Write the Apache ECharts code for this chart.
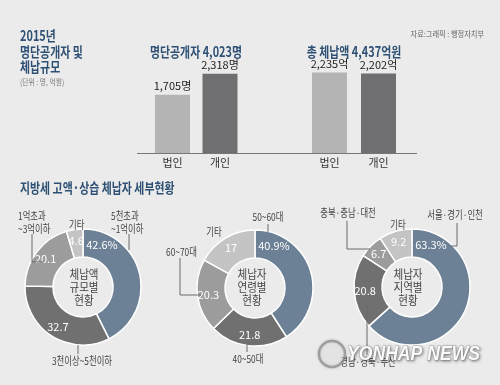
<!DOCTYPE html>
<html><head><meta charset="utf-8">
<script src="https://cdn.jsdelivr.net/npm/echarts@6/dist/echarts.min.js"></script>
<style>html,body{margin:0;padding:0;background:#ebebeb;}#c{width:500px;height:385px;}</style>
</head><body><div id="c"></div>
<script>
// ---- data ----
const barCats = ['법인', '개인'];
const listedCounts = [1705, 2318];      // 명
const arrearsAmounts = [2235, 2202];    // 억
const sizeNames = ['5천초과~1억이하', '3천이상~5천이하', '1억초과~3억이하', '기타'];
const sizeValues = [42.6, 32.7, 20.1, 4.6];
const ageNames = ['50~60대', '40~50대', '60~70대', '기타'];
const ageValues = [40.9, 21.8, 20.3, 17];
const regionNames = ['서울·경기·인천', '경남·경북·부산', '충북·충남·대전', '기타'];
const regionValues = [63.3, 20.8, 6.7, 9.2];

const FONT = '"Noto Sans CJK KR", "Noto Sans", sans-serif';
const NARROW = '"Liberation Sans Narrow", "Noto Sans CJK KR", sans-serif';
const BLUE = '#2d5074';
const fmt = v => v.toLocaleString('en-US');
const chart = echarts.init(document.getElementById('c'), null, {renderer: 'canvas'});

const colorsA = ['#6c8096', '#707070', '#9c9c9c', '#c4c4c4'];

function donut(center, names, values, colors) {
  return {
    type: 'pie', center: center, radius: [30, 58], startAngle: 90, clockwise: true,
    silent: true, animation: false,
    itemStyle: {borderColor: '#ffffff', borderWidth: 1.5},
    label: {show: true, position: 'inside', color: '#ffffff', fontSize: 11, fontFamily: NARROW,
      formatter: p => p.dataIndex === 0 ? p.value + '%' : String(p.value)},
    labelLine: {show: false},
    labelLayout: function (params) {
      if (params.dataIndex === 0) return {x: center[0] + 19, y: center[1] - 42, align: 'center', verticalAlign: 'middle'};
    },
    data: values.map((v, i) => ({value: v, name: names[i], itemStyle: {color: colors[i]}}))
  };
}

const H1 = 79.3 * 3000 / 2318;
const H2 = 80.6 * 3000 / 2235;
const BASE = 153;

function txt(text, x, y, opts, sx) {
  opts = opts || {};
  return {type: 'text', silent: true, z: 10, x: x, y: y, scaleX: sx || 1, style: Object.assign({
    text: text, x: 0, y: 0, fill: '#333', align: 'left', verticalAlign: 'middle',
    font: '11px ' + FONT}, opts)};
}
function head(text, x, y, align) {
  return txt(text, x, y, {font: 'bold 14px ' + FONT, fill: BLUE, align: align || 'left'}, 0.78);
}
function lab(text, x, y, align) {
  return txt(text, x, y, {font: '11px ' + FONT, fill: '#444', align: align || 'left', lineHeight: 13}, 0.76);
}
function ctr(text, x, y) {
  return txt(text, x, y, {font: '12px ' + FONT, fill: '#444', align: 'center', lineHeight: 13}, 0.88);
}
function poly(points) {
  return {type: 'polyline', silent: true, z: 5, shape: {points: points},
    style: {stroke: '#6a6a6a', lineWidth: 1, fill: null}};
}

const option = {
  backgroundColor: '#ebebeb',
  animation: false,
  grid: [
    {left: 148.75, width: 95, top: BASE - H1, height: H1},
    {left: 305, width: 98, top: BASE - H2, height: H2}
  ],
  xAxis: [0, 1].map(i => ({
    gridIndex: i, type: 'category', data: barCats,
    axisLine: {show: false}, axisTick: {show: false},
    axisLabel: {fontSize: 11, color: '#333', margin: 4, fontFamily: FONT}
  })),
  yAxis: [0, 1].map(i => ({gridIndex: i, type: 'value', min: 0, max: 3000, show: false, splitLine: {show: false}})),
  series: [
    {type: 'bar', xAxisIndex: 0, yAxisIndex: 0, barWidth: 35, silent: true,
     data: listedCounts.map((v, i) => ({value: v, itemStyle: {color: i === 0 ? '#b4b4b4' : '#6f6f71'}})),
     label: {show: true, position: 'top', distance: 3, fontSize: 11, color: '#222', fontFamily: FONT,
       formatter: p => fmt(p.value) + '명'}},
    {type: 'bar', xAxisIndex: 1, yAxisIndex: 1, barWidth: 35, silent: true,
     data: arrearsAmounts.map((v, i) => ({value: v, itemStyle: {color: i === 0 ? '#b4b4b4' : '#6f6f71'}})),
     label: {show: true, position: 'top', distance: 3, fontSize: 11, color: '#222', fontFamily: FONT,
       formatter: p => fmt(p.value) + '억'}},
    donut([83, 287], sizeNames, sizeValues, colorsA),
    donut([255, 288], ageNames, ageValues, colorsA),
    donut([412, 287], regionNames, regionValues, colorsA)
  ],
  graphic: [
    // headings
    head('2015년', 20, 36),
    head('명단공개자 및', 20, 52),
    head('체납규모', 20, 67),
    txt('(단위 : 명, 억원)', 20, 82, {font: '8px ' + FONT, fill: '#777'}, 0.85),
    txt('자료:그래픽 : 행정자치부', 484, 34, {font: '8px ' + FONT, fill: '#666', align: 'right'}, 0.9),
    head('명단공개자 ' + fmt(listedCounts[0] + listedCounts[1]) + '명', 196, 52, 'center'),
    head('총 체납액 ' + fmt(arrearsAmounts[0] + arrearsAmounts[1]) + '억원', 354, 52, 'center'),
    {type: 'line', silent: true, shape: {x1: 137, y1: BASE + 0.5, x2: 417, y2: BASE + 0.5},
     style: {stroke: '#777', lineWidth: 1}},
    head('지방세 고액·상습 체납자 세부현황', 20, 188),

    // donut 1
    ctr('체납액\n규모별\n현황', 84, 287),
    lab('5천초과\n~1억이하', 111, 222),
    poly([[129, 234], [129, 250]]),
    lab('1억초과\n~3억이하', 18, 222),
    poly([[32, 234], [32, 262], [44, 262]]),
    lab('기타', 69, 225),
    lab('3천이상~5천이하', 82, 361, 'center'),
    poly([[78, 345], [78, 354]]),

    // donut 2
    ctr('체납자\n연령별\n현황', 252, 287),
    lab('50~60대', 268, 217, 'center'),
    poly([[268, 224], [268, 232]]),
    lab('기타', 214, 232, 'center'),
    lab('60~70대', 166, 252),
    poly([[180, 258], [180, 295], [201, 295]]),
    lab('40~50대', 248, 359, 'center'),
    poly([[247, 344], [247, 352]]),

    // donut 3
    ctr('체납자\n지역별\n현황', 408, 287),
    lab('서울·경기·인천', 455, 215, 'center'),
    poly([[457, 223], [457, 246], [451, 246]]),
    lab('충북·충남·대전', 348, 213, 'center'),
    poly([[347, 221], [347, 249], [370, 249]]),
    lab('기타', 398, 225, 'center'),
    poly([[367, 305], [367, 355]]),
    lab('경남·경북·부산', 368, 362, 'center'),

    // watermark
    {type: 'circle', silent: true, z: 20, shape: {cx: 332, cy: 354, r: 13},
     style: {fill: 'rgba(255,255,255,0.5)', stroke: 'rgba(120,120,120,0.55)', lineWidth: 2.5,
       shadowColor: 'rgba(0,0,0,0.3)', shadowBlur: 3}},
    txt('YONHAP NEWS', 347, 354, {font: 'italic bold 20px "Liberation Sans", Arial, sans-serif',
      fill: 'rgba(255,255,255,0.95)', stroke: 'rgba(140,140,140,0.6)', lineWidth: 0.8,
      textShadowColor: 'rgba(0,0,0,0.45)', textShadowBlur: 3, textShadowOffsetX: 1, textShadowOffsetY: 1}, 0.88)
  ]
};
chart.setOption(option);
</script>
</body></html>
